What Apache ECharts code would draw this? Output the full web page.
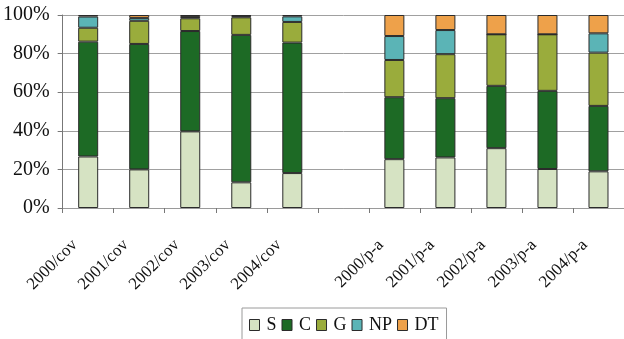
<!DOCTYPE html>
<html>
<head>
<meta charset="utf-8">
<script src="https://cdn.jsdelivr.net/npm/echarts@6/dist/echarts.min.js"></script>
<style>
  html, body { margin: 0; padding: 0; background: #fff; }
  #chart { width: 624px; height: 339px; }
</style>
</head>
<body>
<div id="chart"></div>
<script>
// Share of each component per year and method (percent of total); blank slot separates the two groups
const categories = ['2000/cov', '2001/cov', '2002/cov', '2003/cov', '2004/cov', '',
                    '2000/p-a', '2001/p-a', '2002/p-a', '2003/p-a', '2004/p-a'];
const sValues  = [26.7, 20.0, 39.7, 13.3, 18.1, null, 25.3, 26.2, 31.0, 20.2, 19.0];
const cValues  = [59.5, 65.0, 52.0, 76.4, 67.6, null, 32.1, 30.7, 32.3, 40.5, 33.9];
const gValues  = [7.2, 12.0, 6.6, 9.1, 10.7, null, 19.3, 22.8, 26.7, 29.3, 27.6];
const npValues = [5.8, 1.5, 0.7, 0.6, 2.9, null, 12.4, 12.5, 0, 0, 10.0];
const dtValues = [0.8, 1.5, 1.0, 0.6, 0.7, null, 10.9, 7.8, 10.0, 10.0, 9.5];
const yTicks = [0, 20, 40, 60, 80, 100];

const seriesDefs = [
  { name: 'S',  data: sValues,  color: '#d6e3c3' },
  { name: 'C',  data: cValues,  color: '#1d6a25' },
  { name: 'G',  data: gValues,  color: '#9aac3c' },
  { name: 'NP', data: npValues, color: '#5bb4b6' },
  { name: 'DT', data: dtValues, color: '#eea14a' }
];

const serif = 'Liberation Serif, Times New Roman, Times, serif';

const chart = echarts.init(document.getElementById('chart'), null, { renderer: 'canvas' });
chart.setOption({
  animation: false,
  backgroundColor: '#ffffff',
  grid: { left: 62, top: 15, width: 569, height: 193, containLabel: false },
  legend: {
    data: seriesDefs.map(s => s.name),
    left: 242,
    top: 308,
    icon: 'rect',
    itemWidth: 10,
    itemHeight: 11,
    itemGap: 5,
    padding: [8, 8, 12, 7],
    borderColor: '#9a9a9a',
    borderWidth: 1,
    itemStyle: { borderColor: '#2b2b2b', borderWidth: 1 },
    textStyle: { fontFamily: serif, fontSize: 18, color: '#111', padding: [0, 0, 0, 2] }
  },
  xAxis: {
    type: 'category',
    data: categories,
    boundaryGap: true,
    axisLine: { show: true, lineStyle: { color: '#9a9a9a', width: 1 } },
    axisTick: { show: true, interval: 0, length: 5, lineStyle: { color: '#777' } },
    axisLabel: {
      interval: 0,
      rotate: 45,
      margin: 21,
      padding: [0, 19, 0, 0],
      fontFamily: serif,
      fontSize: 17,
      color: '#111'
    }
  },
  yAxis: {
    type: 'value',
    min: 0,
    max: 100,
    interval: 20,
    axisLine: { show: true, lineStyle: { color: '#777', width: 1 } },
    axisTick: { show: true, length: 5, lineStyle: { color: '#777' } },
    axisLabel: {
      margin: 13,
      fontFamily: serif,
      fontSize: 20,
      color: '#111',
      formatter: v => yTicks.includes(v) ? v + '%' : ''
    },
    splitLine: { show: true, lineStyle: { color: '#a0a0a0', width: 1 } }
  },
  series: seriesDefs.map(s => ({
    name: s.name,
    type: 'bar',
    stack: 'total',
    barWidth: 20,
    data: s.data,
    itemStyle: { color: s.color, borderColor: '#2b2b2b', borderWidth: 1 }
  }))
});
</script>
</body>
</html>
